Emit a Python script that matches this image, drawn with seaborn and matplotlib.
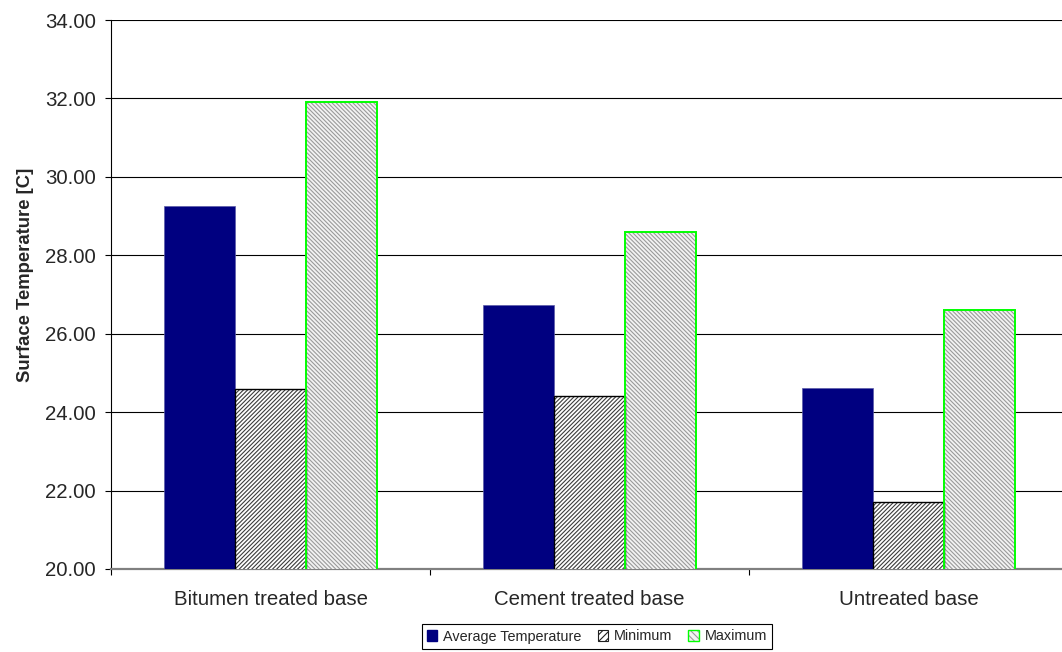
import matplotlib
matplotlib.use("Agg")
import matplotlib.pyplot as plt
from matplotlib.patches import Patch, Rectangle
from matplotlib.transforms import IdentityTransform
from matplotlib.ticker import FormatStrFormatter, FixedLocator
import pandas as pd
import seaborn as sns

# Surface temperatures per base type
bases = ["Bitumen treated base", "Cement treated base", "Untreated base"]
series = ["Average Temperature", "Minimum", "Maximum"]
average_temp = [29.25, 26.72, 24.61]
minimum_temp = [24.60, 24.40, 21.70]
maximum_temp = [31.90, 28.60, 26.60]
y_ticks = [20, 22, 24, 26, 28, 30, 32, 34]

df = pd.DataFrame({
    "base": bases * 3,
    "stat": [series[0]] * 3 + [series[1]] * 3 + [series[2]] * 3,
    "temp": average_temp + minimum_temp + maximum_temp,
})

sns.set_style("white")
plt.rcParams["font.family"] = ["Liberation Sans", "DejaVu Sans"]
plt.rcParams["hatch.linewidth"] = 0.8

NAVY = "#000080"
GREEN = "#00ff00"
MIN_HATCH = "/" * 8
MAX_HATCH = "\\" * 8
MIN_HATCH_GREY = "#3c3c3c"
MAX_HATCH_GREY = "#9a9a9a"
MAX_FACE = "#f2f2f2"

fig = plt.figure(figsize=(10.62, 6.52), dpi=100)
ax = fig.add_axes([111 / 1062, 83 / 652, 957 / 1062, 549 / 652])

sns.barplot(data=df, x="base", y="temp", hue="stat", order=bases,
            hue_order=series, palette=[NAVY, "white", "white"],
            saturation=1, width=0.668, gap=0, dodge=True, legend=False,
            errorbar=None, ax=ax, zorder=3)


def outline(p, color, lw):
    """Draw a plain border over a hatched bar so the hatch keeps its own colour."""
    ax.add_patch(Rectangle(p.get_xy(), p.get_width(), p.get_height(),
                           fill=False, edgecolor=color, linewidth=lw,
                           zorder=4))


avg_bars, min_bars, max_bars = ax.containers[:3]
for p in avg_bars:
    p.set_edgecolor("#5a5aa8")
    p.set_linewidth(0.5)
for p in min_bars:
    p.set_facecolor("white")
    p.set_edgecolor(MIN_HATCH_GREY)
    p.set_linewidth(0)
    p.set_hatch(MIN_HATCH)
    outline(p, "black", 1.0)
for p in max_bars:
    p.set_facecolor(MAX_FACE)
    p.set_edgecolor(MAX_HATCH_GREY)
    p.set_linewidth(0)
    p.set_hatch(MAX_HATCH)
    outline(p, GREEN, 1.4)

ax.set_xlim(-0.5, 2.5)
ax.set_ylim(20, 34)
ax.set_yticks(y_ticks)
ax.yaxis.set_major_formatter(FormatStrFormatter("%.2f"))
ax.yaxis.grid(True, color="black", linewidth=0.8, zorder=0)
ax.set_axisbelow(True)

ax.xaxis.set_minor_locator(FixedLocator([-0.5, 0.5, 1.5, 2.5]))
ax.tick_params(axis="x", which="major", length=0, pad=15, labelsize=14.7)
ax.tick_params(axis="x", which="minor", length=4.5, width=0.8,
               color="black", direction="out", bottom=True)
ax.tick_params(axis="y", which="major", length=4, width=0.8, color="black",
               direction="out", left=True, pad=7, labelsize=14.7)

for side in ("top", "right"):
    ax.spines[side].set_visible(False)
ax.spines["left"].set_color("black")
ax.spines["left"].set_linewidth(0.8)
ax.spines["bottom"].set_color("#808080")
ax.spines["bottom"].set_linewidth(1.6)

ax.set_xlabel("")
ax.set_ylabel("Surface Temperature [C]", fontsize=13.3, fontweight="bold")
ax.yaxis.set_label_coords(-0.0805, 0.535)

handles = [
    Patch(facecolor=NAVY, edgecolor=NAVY),
    Patch(facecolor="white", edgecolor="#202020", hatch="/" * 5,
          linewidth=0.8),
    Patch(facecolor=MAX_FACE, edgecolor=MAX_HATCH_GREY, hatch="\\" * 5,
          linewidth=0),
]
leg = fig.legend(handles, series, loc="center",
                 bbox_to_anchor=(597 / 1062, 1 - 636.5 / 652), ncol=3,
                 fontsize=10.4, frameon=True, fancybox=False,
                 edgecolor="black", framealpha=1, borderpad=0.35,
                 handlelength=0.75, handleheight=0.75, handletextpad=0.4,
                 columnspacing=1.1)
leg.get_frame().set_linewidth(0.8)

# green border around the hatched "Maximum" legend swatch
fig.canvas.draw()
bb = leg.legend_handles[2].get_window_extent()
fig.add_artist(Rectangle((bb.x0, bb.y0), bb.width, bb.height, fill=False,
                         edgecolor=GREEN, linewidth=1.0, zorder=10,
                         transform=IdentityTransform()))

fig.savefig("out.png", dpi=100)
